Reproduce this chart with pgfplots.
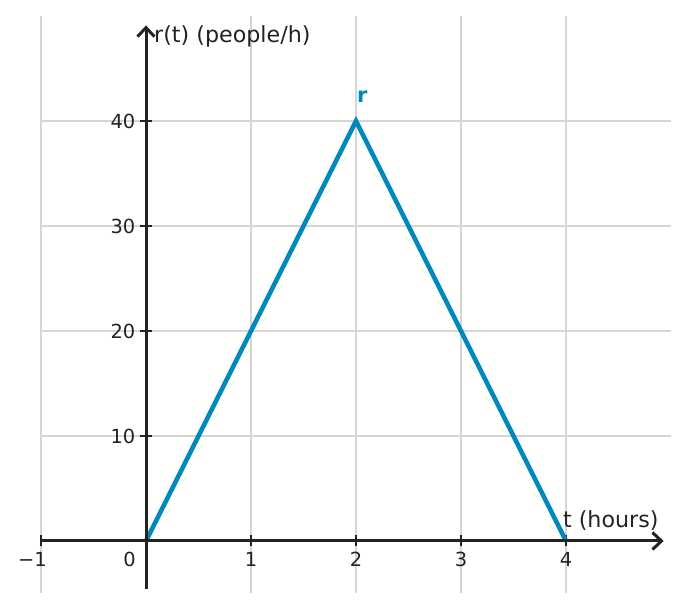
\documentclass[border=0pt]{standalone}
\usepackage{fontspec}
\setmainfont{DejaVu Sans}
\usepackage{pgfplots}
\pgfplotsset{compat=1.18}
\usetikzlibrary{arrows.meta}

\definecolor{rblue}{RGB}{0,136,190}
\definecolor{axdark}{RGB}{34,34,34}
\definecolor{gridgray}{RGB}{214,214,214}
\newcommand{\lbl}{\fontsize{19.4}{23}\selectfont}
\newcommand{\axlbl}{\fontsize{22.2}{26}\selectfont}

\begin{document}
\begin{tikzpicture}[x=1pt,y=1pt]
\useasboundingbox (0,0) rectangle (688,612);
\begin{axis}[
    at={(41pt,18.5pt)}, anchor=south west,
    scale only axis, width=630pt, height=577.5pt,
    xmin=-1, xmax=5, ymin=-5, ymax=50,
    axis lines=middle,
    axis line style={draw=none},
    clip=false,
    xtick={-1,0,1,2,3,4},
    xticklabels={,,1,2,3,4},
    ytick={0,10,20,30,40},
    yticklabels={,10,20,30,40},
    grid=major,
    grid style={gridgray, line width=1.4pt},
    tick align=center,
    major tick length=11pt,
    every tick/.style={axdark, line width=2.4pt},
    tick label style={font=\lbl, text=axdark},
    /pgf/number format/assume math mode=true,
    xticklabel style={anchor=north, inner sep=0pt, yshift=-5.5pt},
    yticklabel style={anchor=east, inner sep=0pt, xshift=-5pt},
]
\addplot[rblue, line width=4.5pt, line join=miter] coordinates {(0,0) (2,40) (4,0)};

% axis lines with open arrow heads
\draw[axdark, line width=3pt, -{Straight Barb[length=9pt,width=17pt,line width=3pt]}]
    (axis cs:-0.99,0) -- (axis cs:4.93,0);
\draw[axdark, line width=3pt, -{Straight Barb[length=9pt,width=17pt,line width=3pt]}]
    (axis cs:0,-4.6) -- (axis cs:0,49.1);

\node[anchor=north, inner sep=0pt, yshift=-11pt, text=axdark, font=\lbl] at (axis cs:-1.081,0) {−1};
\node[anchor=north, inner sep=0pt, yshift=-11pt, text=axdark, font=\lbl] at (axis cs:-0.157,0) {0};

\node[anchor=base west, inner sep=0pt, text=axdark, font=\axlbl] at (axis cs:3.97,1.24) {t (hours)};
\node[anchor=base west, inner sep=0pt, xshift=8pt, text=axdark, font=\axlbl] at (axis cs:0,47.43) {r(t) (people/h)};
\node[anchor=base, inner sep=0pt, text=rblue, font=\fontsize{21}{25}\selectfont\bfseries] at (axis cs:2.06,41.8) {r};
\end{axis}
\end{tikzpicture}
\end{document}
